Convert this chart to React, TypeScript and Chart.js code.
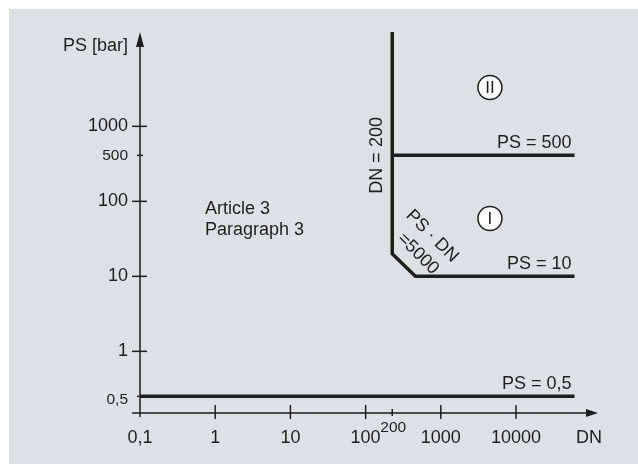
import React, { useEffect, useRef } from 'react';
import { Chart, registerables, LogarithmicScale } from 'chart.js';

// ---- axis ranges ----
const X_MIN = 0.1;
const X_MAX = 123000;
const Y_MIN = 0.3;
const Y_MAX = 18100;

// ---- ticks ----
const xTickValues = [0.1, 1, 10, 100, 200, 1000, 10000];
const xTickLabels = ['0,1', '1', '10', '100', '200', '1000', '10000'];
const xMinorTicks = [200];
const yTickValues = [0.5, 1, 10, 100, 500, 1000];
const yTickLabels = ['0,5', '1', '10', '100', '500', '1000'];
const yMinorTicks = [0.5, 500];

// ---- boundary lines (DN, PS) ----
const lowDN = [0.1, 60000];
const lowPS = [0.5, 0.5];
const boundaryDN = [200, 200, 430, 60000];
const boundaryPS = [Y_MAX, 20, 10, 10];
const upperDN = [200, 60000];
const upperPS = [500, 500];

// ---- annotations (data coordinates) ----
const circleLabels = ['II', 'I'];
const circleDN = [4500, 4500];
const circlePS = [3300, 59];
const regionLines = ['Article 3', 'Paragraph 3'];
const regionDN = [0.73, 0.73];
const regionPS = [80, 41.5];

const FONT = '"Liberation Sans", Arial, Helvetica, sans-serif';
const INK = '#1e1e1e';

class WarpLogScale extends LogarithmicScale {
  static id = 'warplog';
  static defaults = { ...(LogarithmicScale as any).defaults };

  warp(v: number): number {
    const l = Math.log10(v);
    const a: number[][] = (this as any).options.anchors || [];
    if (!a.length) return l;
    const la = a.map((p) => Math.log10(p[0]));
    if (l <= la[0]) return a[0][1] + (l - la[0]);
    const n = a.length - 1;
    if (l >= la[n]) return a[n][1] + (l - la[n]);
    for (let i = 0; i < n; i++) {
      if (l >= la[i] && l <= la[i + 1]) {
        const t = (l - la[i]) / (la[i + 1] - la[i]);
        return a[i][1] + t * (a[i + 1][1] - a[i][1]);
      }
    }
    return l;
  }

  unwarp(w: number): number {
    const a: number[][] = (this as any).options.anchors || [];
    if (!a.length) return Math.pow(10, w);
    const la = a.map((p) => Math.log10(p[0]));
    if (w <= a[0][1]) return Math.pow(10, la[0] + (w - a[0][1]));
    const n = a.length - 1;
    if (w >= a[n][1]) return Math.pow(10, la[n] + (w - a[n][1]));
    for (let i = 0; i < n; i++) {
      if (w >= a[i][1] && w <= a[i + 1][1]) {
        const t = (w - a[i][1]) / (a[i + 1][1] - a[i][1]);
        return Math.pow(10, la[i] + t * (la[i + 1] - la[i]));
      }
    }
    return Math.pow(10, w);
  }

  getPixelForValue(value: any): number {
    const self = this as any;
    if (value === undefined || value === 0) value = self.min;
    if (value === null || isNaN(value)) return NaN;
    const w0 = this.warp(self.min);
    const w1 = this.warp(self.max);
    return self.getPixelForDecimal((this.warp(value) - w0) / (w1 - w0));
  }

  getValueForPixel(pixel: number): number {
    const self = this as any;
    const d = self.getDecimalForPixel(pixel);
    const w0 = this.warp(self.min);
    const w1 = this.warp(self.max);
    return this.unwarp(w0 + d * (w1 - w0));
  }
}

Chart.register(...registerables, WarpLogScale as any);

const toPoints = (xs: number[], ys: number[]) => xs.map((x, i) => ({ x, y: ys[i] }));

const schematicPlugin = {
  id: 'schematic',
  beforeDraw(chart: any) {
    const ctx = chart.ctx;
    ctx.save();
    ctx.fillStyle = '#ffffff';
    ctx.fillRect(0, 0, chart.width, chart.height);
    ctx.fillStyle = '#dde1e5';
    ctx.fillRect(9, 9, chart.width - 9, chart.height - 9);
    ctx.restore();
  },
  afterDatasetsDraw(chart: any) {
    const ctx = chart.ctx;
    const xs = chart.scales.x;
    const ys = chart.scales.y;
    const x0 = xs.getPixelForValue(X_MIN);
    const y0 = ys.getPixelForValue(Y_MIN);
    const top = ys.getPixelForValue(Y_MAX);
    const right = xs.getPixelForValue(X_MAX);
    ctx.save();
    ctx.strokeStyle = INK;
    ctx.fillStyle = INK;
    ctx.lineWidth = 1.5;
    // axes
    ctx.beginPath();
    ctx.moveTo(x0, y0 + 4);
    ctx.lineTo(x0, top + 10);
    ctx.moveTo(x0 - 8, y0);
    ctx.lineTo(right - 8, y0);
    ctx.stroke();
    // arrows
    ctx.beginPath();
    ctx.moveTo(x0, top);
    ctx.lineTo(x0 - 4, top + 15);
    ctx.lineTo(x0 + 4, top + 15);
    ctx.closePath();
    ctx.fill();
    ctx.beginPath();
    ctx.moveTo(right, y0);
    ctx.lineTo(right - 12, y0 - 4);
    ctx.lineTo(right - 12, y0 + 4);
    ctx.closePath();
    ctx.fill();

    // y ticks
    ctx.textBaseline = 'middle';
    yTickValues.forEach((v, i) => {
      const py = ys.getPixelForValue(v);
      const minor = yMinorTicks.includes(v);
      ctx.beginPath();
      if (minor) {
        ctx.moveTo(x0 - 3, py);
        ctx.lineTo(x0 + 3, py);
      } else {
        ctx.moveTo(x0 - 8, py);
        ctx.lineTo(x0 + 7, py);
      }
      ctx.stroke();
      ctx.font = (minor ? '15.5px ' : '18px ') + FONT;
      ctx.textAlign = 'right';
      ctx.fillText(yTickLabels[i], x0 - 12, py + (v === 0.5 ? 3 : 0));
    });
    // x ticks
    xTickValues.forEach((v, i) => {
      const px = xs.getPixelForValue(v);
      const minor = xMinorTicks.includes(v);
      if (v !== X_MIN) {
        ctx.beginPath();
        if (minor) {
          ctx.moveTo(px, y0 - 4);
          ctx.lineTo(px, y0 + 3);
        } else {
          ctx.moveTo(px, y0 - 8);
          ctx.lineTo(px, y0 + 6);
        }
        ctx.stroke();
      }
      ctx.font = (minor ? '15.5px ' : '18px ') + FONT;
      ctx.textAlign = 'center';
      ctx.fillText(xTickLabels[i], minor ? px + 1 : px, minor ? y0 + 15 : y0 + 25);
    });

    // axis titles
    ctx.font = '18px ' + FONT;
    ctx.textAlign = 'right';
    ctx.fillText('PS [bar]', x0 - 12, top + 14);
    ctx.textAlign = 'center';
    ctx.fillText('DN', right - 9, y0 + 25);

    // line labels
    const endX = xs.getPixelForValue(lowDN[1]) - 3;
    ctx.textAlign = 'right';
    ctx.fillText('PS = 500', endX, ys.getPixelForValue(upperPS[1]) - 12);
    ctx.fillText('PS = 10', endX, ys.getPixelForValue(boundaryPS[3]) - 12);
    ctx.fillText('PS = 0,5', endX, ys.getPixelForValue(lowPS[1]) - 12);

    // rotated labels
    const rot = (text: string, dn: number, ps: number, ang: number) => {
      ctx.save();
      ctx.translate(xs.getPixelForValue(dn), ys.getPixelForValue(ps));
      ctx.rotate(ang);
      ctx.textAlign = 'center';
      ctx.fillText(text, 0, 0);
      ctx.restore();
    };
    rot('DN = 200', 136, 500, -Math.PI / 2);
    rot('PS · DN', 750, 34.5, Math.PI / 4);
    rot('=5000', 470, 20, Math.PI / 4);

    // region text
    ctx.textAlign = 'left';
    regionLines.forEach((t, i) => {
      ctx.fillText(t, xs.getPixelForValue(regionDN[i]), ys.getPixelForValue(regionPS[i]));
    });

    // circled numerals
    circleLabels.forEach((t, i) => {
      const cx = xs.getPixelForValue(circleDN[i]);
      const cy = ys.getPixelForValue(circlePS[i]);
      ctx.beginPath();
      ctx.arc(cx, cy, 12, 0, Math.PI * 2);
      ctx.fillStyle = '#ffffff';
      ctx.fill();
      ctx.lineWidth = 1.5;
      ctx.strokeStyle = INK;
      ctx.stroke();
      ctx.fillStyle = INK;
      ctx.textAlign = 'center';
      ctx.font = '17px ' + FONT;
      ctx.fillText(t, cx, cy + 1);
    });
    ctx.restore();
  },
};

export default function App() {
  const ref = useRef<HTMLCanvasElement | null>(null);
  useEffect(() => {
    if (!ref.current) return;
    const lineStyle = {
      borderColor: INK,
      borderWidth: 3.5,
      pointRadius: 0,
      fill: false,
      tension: 0,
      borderJoinStyle: 'miter' as const,
      borderCapStyle: 'butt' as const,
    };
    const chart = new Chart(ref.current, {
      type: 'line',
      data: {
        datasets: [
          { label: 'PS = 0,5', data: toPoints(lowDN, lowPS), ...lineStyle },
          { label: 'Boundary', data: toPoints(boundaryDN, boundaryPS), ...lineStyle },
          { label: 'PS = 500', data: toPoints(upperDN, upperPS), ...lineStyle },
        ],
      },
      options: {
        animation: false,
        responsive: false,
        devicePixelRatio: 1,
        layout: { padding: { left: 140, right: 40, top: 32, bottom: 51 } },
        plugins: { legend: { display: false }, tooltip: { enabled: false } },
        events: [],
        scales: {
          x: {
            type: 'warplog' as any,
            min: X_MIN,
            max: X_MAX,
            display: false,
            anchors: [[100, 2], [200, 2.354], [1000, 3]],
          } as any,
          y: {
            type: 'warplog' as any,
            min: Y_MIN,
            max: Y_MAX,
            display: false,
            anchors: [[0.5, -0.6], [1, 0], [10, 1], [100, 2], [500, 2.613], [1000, 3]],
          } as any,
        },
      },
      plugins: [schematicPlugin],
    });
    return () => chart.destroy();
  }, []);
  return (
    <div style={{ position: 'fixed', left: 0, top: 0, width: 638, height: 464, background: '#fff' }}>
      <canvas ref={ref} width={638} height={464} style={{ width: 638, height: 464, display: 'block' }} />
    </div>
  );
}
